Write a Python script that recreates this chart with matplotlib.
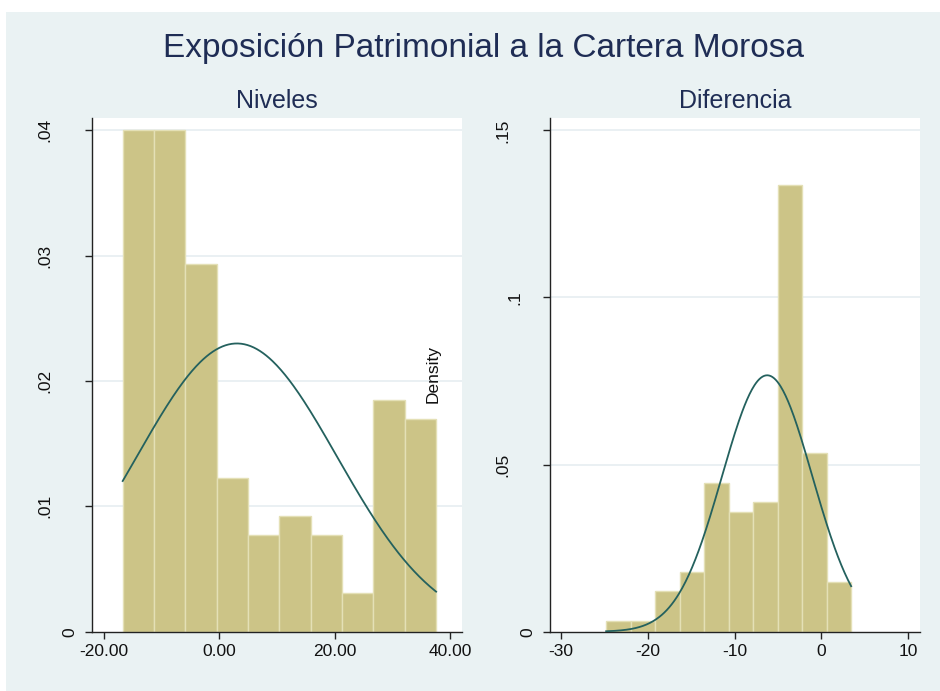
import numpy as np
import matplotlib
matplotlib.use("Agg")
import matplotlib.pyplot as plt
from matplotlib.patches import Rectangle
from matplotlib.transforms import ScaledTranslation

plt.rcParams['font.family'] = ['Liberation Sans', 'DejaVu Sans']

# ---- data ----
title = "Exposición Patrimonial a la Cartera Morosa"
panel_titles = ["Niveles", "Diferencia"]

niv_edges = [-16.71, -11.29, -5.87, -0.44, 4.98, 10.40, 15.82, 21.25, 26.67, 32.09, 37.52]
niv_density = [0.0400, 0.0400, 0.0293, 0.0123, 0.0077, 0.0092, 0.0077, 0.0031, 0.0185, 0.0170]
niv_mean, niv_sd = 3.05, 17.35
niv_xticks = [-20, 0, 20, 40]
niv_xticklabels = ["-20.00", "0.00", "20.00", "40.00"]
niv_yticks = [0, 0.01, 0.02, 0.03, 0.04]
niv_yticklabels = ["0", ".01", ".02", ".03", ".04"]

dif_edges = [-24.80, -21.98, -19.15, -16.33, -13.51, -10.69, -7.87, -5.04, -2.22, 0.60, 3.42]
dif_density = [0.0031, 0.0031, 0.0122, 0.0179, 0.0446, 0.0357, 0.0388, 0.1337, 0.0534, 0.0149]
dif_mean, dif_sd = -6.25, 5.2
dif_xticks = [-30, -20, -10, 0, 10]
dif_xticklabels = ["-30", "-20", "-10", "0", "10"]
dif_yticks = [0, 0.05, 0.1, 0.15]
dif_yticklabels = ["0", ".05", ".1", ".15"]

# ---- style ----
BG = "#EAF2F3"
BAR = "#CCC487"
BAR_EDGE = "#E4E0B6"
CURVE = "#24615E"
NAVY = "#1F2D55"
GRID = "#E6EEF1"
TICKLEN_PT = 4.8

W, H = 940, 691
fig = plt.figure(figsize=(W / 100, H / 100), dpi=100, facecolor="white")
fig.patches.append(Rectangle((6 / W, 0), 1 - 6 / W, 1 - 12 / H, transform=fig.transFigure,
                             facecolor=BG, edgecolor="none", zorder=-10))

fig.text(483 / W, 1 - 48 / H, title, ha="center", va="center", fontsize=24, color=NAVY)

# Stata-like shift of vertical y labels, depending on label length (pixels)
label_shift = {1: -15.5, 2: -29.0, 3: -41.0}


def panel(rect, edges, dens, mu, sd, xlim, ylim, xt, xtl, yt, ytl, ptitle):
    ax = fig.add_axes(rect)
    ax.set_facecolor("white")
    e = np.array(edges)
    ax.bar(e[:-1], dens, width=np.diff(e), align="edge", color=BAR,
           edgecolor=BAR_EDGE, linewidth=1.0, zorder=2)
    xs = np.linspace(e[0], e[-1], 300)
    ys = np.exp(-0.5 * ((xs - mu) / sd) ** 2) / (sd * np.sqrt(2 * np.pi))
    ax.plot(xs, ys, color=CURVE, linewidth=1.3, zorder=3)
    ax.set_xlim(*xlim)
    ax.set_ylim(*ylim)
    ax.set_xticks(xt)
    ax.set_xticklabels(xtl, fontsize=12.5)
    ax.set_yticks(yt)
    ax.set_yticklabels(ytl, fontsize=12.5, rotation=90, va="center", ha="center")
    for y in yt[1:]:
        ax.axhline(y, color=GRID, linewidth=1.2, zorder=1)
    for s in ["top", "right"]:
        ax.spines[s].set_visible(False)
    for s in ["left", "bottom"]:
        ax.spines[s].set_color("#222222")
        ax.spines[s].set_linewidth(1.0)
    ax.tick_params(axis="x", length=TICKLEN_PT, width=1, color="#222222", labelcolor="#111111", pad=4)
    ax.tick_params(axis="y", length=TICKLEN_PT, width=1, color="#222222", labelcolor="#111111", pad=0)
    for lab, txt in zip(ax.get_yticklabels(), ytl):
        dx = label_shift[len(txt)] / 100.0
        lab.set_transform(lab.get_transform() + ScaledTranslation(dx, 0, fig.dpi_scale_trans))
    x0, y0, w, h = rect
    fig.text(x0 + w / 2, 1 - 101 / H, ptitle, ha="center", va="center", fontsize=18, color=NAVY)
    return ax


ax1 = panel([92.3 / W, 1 - 631.7 / H, (462 - 92.3) / W, (631.7 - 118) / H],
            niv_edges, niv_density, niv_mean, niv_sd, (-21.97, 42.0), (0, 0.04098),
            niv_xticks, niv_xticklabels, niv_yticks, niv_yticklabels, panel_titles[0])
ax2 = panel([550.3 / W, 1 - 631.7 / H, (920 - 550.3) / W, (631.7 - 118) / H],
            dif_edges, dif_density, dif_mean, dif_sd, (-31.23, 11.35), (0, 0.1537),
            dif_xticks, dif_xticklabels, dif_yticks, dif_yticklabels, panel_titles[1])

fig.text(433 / W, 1 - 374 / H, "Density", rotation=90, ha="center", va="center",
         fontsize=12.5, color="#111111")

fig.savefig("out.png", dpi=100, facecolor=fig.get_facecolor())
